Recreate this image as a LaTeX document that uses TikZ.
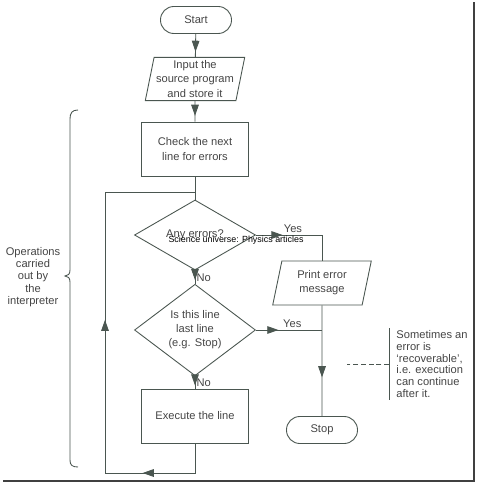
\documentclass[tikz,border=0pt]{standalone}
\usepackage{fontspec}
\setmainfont{Liberation Sans}
\usepackage{xcolor}
\usetikzlibrary{shapes.geometric, arrows.meta, positioning}
\usetikzlibrary{decorations.markings}

\definecolor{inkline}{RGB}{74,86,80}
\definecolor{inktext}{RGB}{68,68,68}

\tikzset{
  base/.style={draw=inkline, line width=0.75pt, text=inktext, align=center, inner sep=0pt},
  terminal/.style={base, rounded corners=0.4cm, minimum width=2.13cm, minimum height=0.81cm},
  process/.style={base, rectangle, minimum width=3.21cm, minimum height=1.62cm},
  io/.style={base, trapezium, trapezium left angle=77, trapezium right angle=103,
    trapezium stretches=true, minimum width=3cm, minimum height=1.3cm},
  decision/.style={base, diamond, minimum width=3.63cm, minimum height=2.1cm},
  flowtip/.tip={Triangle[length=9.5pt, width=6.5pt]},
  midarrow/.style={postaction={decorate}, decoration={markings,
    mark=at position #1 with {\arrow[inkline]{flowtip}}}},
  lbl/.style={text=inktext, inner sep=1pt}
}

\begin{document}
\begin{tikzpicture}[x=0.03cm, y=-0.03cm, line width=0.75pt, draw=inkline,
    font=\fontsize{9.5}{12}\selectfont]
  \useasboundingbox (0,0) rectangle (477,484);

  % Main column
  \node[terminal] (start) at (196,20) {Start};
  \node[io] (input) at (195,79) {Input the\\source program\\and store it};
  \node[process] (check) at (195,149) {Check the next\\line for errors};
  \node[decision] (errors) at (195,235) {\raisebox{2.5pt}{Any errors?}};
  \node[decision] (last) at (195,330) {Is this line\\last line\\(e.g. Stop)};
  \node[process] (exec) at (195,416) {Execute the line};

  % Error branch
  \node[io, minimum width=2.97cm, minimum height=1.32cm] (print) at (322,283) {Print error\\message};
  \node[terminal] (stop) at (322,430) {Stop};

  % Connectors
  \draw[inkline, midarrow=0.78] (start) -- (input);
  \draw[inkline, midarrow=0.72] (input) -- (check);
  \coordinate (join) at (195,192);
  \draw[inkline] (check) -- (errors);
  \draw[inkline, midarrow=0.29] (errors.east) -| (print.north)
    node[lbl, pos=0.28, above=1pt] {Yes};
  \draw[inkline, midarrow=0.72] (errors.south) -- (last.north)
    node[lbl, pos=0.55, right] {No};
  \coordinate (merge) at (print.south |- last.east);
  \draw[inkline, midarrow=0.34] (last.east) -- (merge)
    node[lbl, pos=0.55, above=1pt] {Yes};
  \draw[inkline, midarrow=0.65] (print.south) -- (stop.north);
  \draw[inkline, midarrow=0.75] (last.south) -- (exec.north)
    node[lbl, pos=0.5, right] {No};

  % Loop back from execute to check
  \coordinate (loopcorner) at (105,473);
  \draw[inkline, postaction={decorate}, decoration={markings,
      mark=at position 0.167 with {\arrow[inkline]{flowtip}},
      mark=at position 0.556 with {\arrow[inkline]{flowtip}}}]
    (exec.south) |- (loopcorner) |- (join);

  % Brace and its label
  \draw[inkline] (78,110) .. controls (72,110) and (70,113) .. (70,119)
    -- (70,270) .. controls (70,274) and (68,276) .. (65,276)
    .. controls (68,276) and (70,278) .. (70,282)
    -- (70,460) .. controls (70,465) and (72,467) .. (78,467);
  \node[lbl, font=\fontsize{9.5}{10.6}\selectfont, align=center] (ops) at (33,277)
    {Operations\\carried\\out by\\the\\interpreter};

  % Side note
  \node[lbl, anchor=west, align=left, inner xsep=0.21cm, minimum height=2.1cm,
    font=\fontsize{9.5}{10.2}\selectfont] (note) at (389,364)
    {Sometimes an\\error is\\`recoverable',\\i.e. execution\\can continue\\after it.};
  \draw[inkline] (note.north west) -- (note.south west);
  \coordinate (noteend) at (347,364);
  \draw[inkline, dash pattern=on 4.2pt off 2.4pt] (note.west) -- (noteend);

  % Watermark
  \node[font=\fontsize{7.6}{8}\selectfont, text=black, inner sep=0pt] (mark) at (236,240)
    {Science universe: Physics articles};

  % Page shadow
  \draw[line width=2pt, draw=black!75] (3,481) -- (474,481) -- (474,2);
\end{tikzpicture}
\end{document}
